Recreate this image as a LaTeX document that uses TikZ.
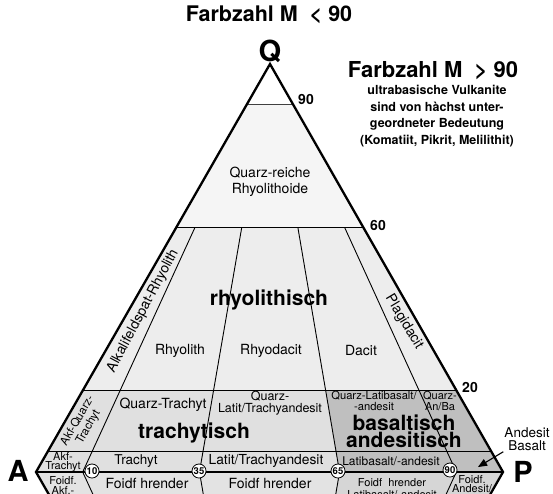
\documentclass[tikz,border=0pt]{standalone}
\usepackage{fontspec}
\setmainfont{TeX Gyre Heros}
\usetikzlibrary{arrows,calc,shapes}

\begin{document}
\begin{tikzpicture}[x=1pt,y=-1pt,>=triangle 45]
  \tikzstyle{rim}=[line width=2.3pt,line join=miter]
  \tikzstyle{div}=[line width=0.9pt]
  \tikzstyle{field}=[align=center,inner sep=1pt]
  \tikzstyle{big}=[font=\bfseries\fontsize{21}{17}\selectfont,align=center,inner sep=1pt]
  \tikzstyle{num}=[font=\bfseries\fontsize{14}{14}\selectfont,inner sep=1pt]
  \tikzstyle{corner}=[font=\bfseries\fontsize{29}{29}\selectfont,inner sep=0pt]
  \tikzstyle{pct}=[circle,draw,fill=white,line width=0.8pt,inner sep=0.5pt,minimum size=13pt,font=\bfseries\fontsize{9.5}{9.5}\selectfont]

  \useasboundingbox (0,0) rectangle (553,493);
  \clip (0,0) rectangle (553,493);

  % corners of the double triangle
  \coordinate (A) at (36,472);
  \coordinate (P) at (503,472);
  \coordinate (Q) at (270,64);
  \coordinate (F) at (270,880);

  % P/(A+P) rays
  \foreach \r/\n in {0.1/10,0.35/35,0.65/65,0.9/90}{
    \coordinate (b\n) at ($(A)!\r!(P)$);
    \coordinate (t\n) at ($(b\n)!0.6!(Q)$);
    \coordinate (m\n) at ($(b\n)!0.2!(Q)$);
  }
  % Q levels on the rims
  \foreach \q in {90,60,20,05}{
    \coordinate (l\q) at ($(A)!0.\q!(Q)$);
    \coordinate (r\q) at ($(P)!0.\q!(Q)$);
  }

  % fields
  \fill[black!4] (l90) -- (r90) -- (r60) -- (l60) -- cycle;
  \fill[black!7] (l60) -- (r60) -- (r20) -- (l20) -- cycle;
  \fill[black!12] (l20) -- (m65) -- (b65) -- (A) -- cycle;
  \fill[black!25] (m65) -- (r20) -- (P) -- (b65) -- cycle;
  \fill[black!11] (A) -- (b65) -- (F) -- cycle;
  \fill[black!16] (b65) -- (P) -- (F) -- cycle;

  % dividing lines
  \draw[div,black!75] (l90) -- (r90);
  \draw[div] (l60) -- (r60) (l20) -- (r20) (l05) -- (r05);
  \foreach \n in {10,35,65,90}
    \draw[div] (t\n) -- (b\n) -- ($(b\n)!0.1!(F)$);

  % rims
  \draw[rim] ($(A)!0.15!(F)$) -- (A) -- (Q) -- (P) -- ($(P)!0.15!(F)$);
  \draw[rim] (A) -- (P);

  % headings
  \node[font=\bfseries\fontsize{21.5}{21.5}\selectfont] (titlelow) at (269,15) {Farbzahl M~~< 90};
  \node[corner] (Qlbl) at (270,51) {Q};
  \node[font=\bfseries\fontsize{22}{22}\selectfont] (titlehigh) at (433,71) {Farbzahl M~~> 90};
  \node[font=\bfseries\fontsize{12.5}{16.5}\selectfont,align=center] (ultra) at (437,116)
    {ultrabasische Vulkanite\\sind von hàchst unter-\\geordneter Bedeutung\\(Komatiit, Pikrit, Melilithit)};

  \node[num] (n90) at (306,99) {90};
  \node[num] (n60) at (378,225) {60};
  \node[num] (n20) at (470,387) {20};
  \node[corner] (Albl) at (18,471) {A};
  \node[corner] (Plbl) at (523,472) {P};

  % upper fields
  \node[field,font=\fontsize{14}{16}\selectfont] (qrich) at (270,182) {Quarz-reiche\\Rhyolithoide};
  \node[big] (rhyo) at (269,300) {rhyolithisch};
  \node[field,font=\fontsize{14}{14}\selectfont] (rhyolith) at (180,351) {Rhyolith};
  \node[field,font=\fontsize{14}{14}\selectfont] (rhyodacit) at (271,351) {Rhyodacit};
  \node[field,font=\fontsize{14}{14}\selectfont] (dacit) at (361,350) {Dacit};
  \node[field,font=\fontsize{14}{14}\selectfont,rotate=62] (akfrhyo) at (143,311) {Alkalifeldspat-Rhyolith};
  \node[field,font=\fontsize{14}{14}\selectfont,rotate=-59] (plagi) at (404,322) {Plagidacit};

  % q 5-20 fields
  \node[field,font=\fontsize{14}{14}\selectfont] (qtrachyt) at (163,405) {Quarz-Trachyt};
  \node[field,font=\fontsize{12.5}{11.5}\selectfont] (qlatit) at (270,403) {Quarz-\\Latit/Trachyandesit};
  \node[field,font=\fontsize{11.2}{11}\selectfont] (qlatiba) at (374,401) {Quarz-Latibasalt/\\-andesit};
  \node[field,font=\fontsize{11}{10.5}\selectfont] (qanba) at (440,401) {Quarz-\\An/Ba};
  \node[field,font=\fontsize{11.5}{12.5}\selectfont,rotate=60] (akfq) at (83,424) {Akf-Quarz-\\Trachyt};
  \node[big] (trachy) at (194,433) {trachytisch};
  \node[big] (basand) at (404,431) {basaltisch\\andesitisch};

  % q 0-5 fields
  \node[field,font=\fontsize{11}{9.5}\selectfont] (akftr) at (63,462) {Akf-\\Trachyt};
  \node[field,font=\fontsize{13.5}{13.5}\selectfont] (trachyt) at (136,461) {Trachyt};
  \node[field,font=\fontsize{13.8}{13.8}\selectfont] (latit) at (266,461) {Latit/Trachyandesit};
  \node[field,font=\fontsize{12}{12}\selectfont] (latiba) at (391,461) {Latibasalt/-andesit};
  \node[field,font=\fontsize{13.5}{13}\selectfont] (andbas) at (527,439) {Andesit\\Basalt};
  \coordinate (arrtip) at (478,467);
  \draw[->,line width=1.1pt] (andbas.south west) -- (arrtip);

  % ratio marks on A-P
  \node[pct] (c10) at (92,471) {10};
  \node[pct] (c35) at (199,471) {35};
  \node[pct] (c65) at (338,471) {65};
  \node[pct] (c90) at (450,470) {90};

  % foid bearing fields below A-P
  \node[field,font=\fontsize{11}{10.5}\selectfont,anchor=north] (foidakf) at (63,475) {Foidf.\\Akf.-};
  \node[field,font=\fontsize{14}{14}\selectfont] (foidtr) at (147,483) {Foidf hrender};
  \node[field,font=\fontsize{14}{14}\selectfont] (foidla) at (270,483) {Foidf hrender};
  \node[field,font=\fontsize{11}{12}\selectfont,anchor=north] (foidba) at (392,477) {Foidf\ \ hrender\\Latibasalt/-andesit};
  \node[field,font=\fontsize{11}{9.5}\selectfont,anchor=north] (foidan) at (472,474) {Foidf.\\Andesit/};
\end{tikzpicture}
\end{document}
